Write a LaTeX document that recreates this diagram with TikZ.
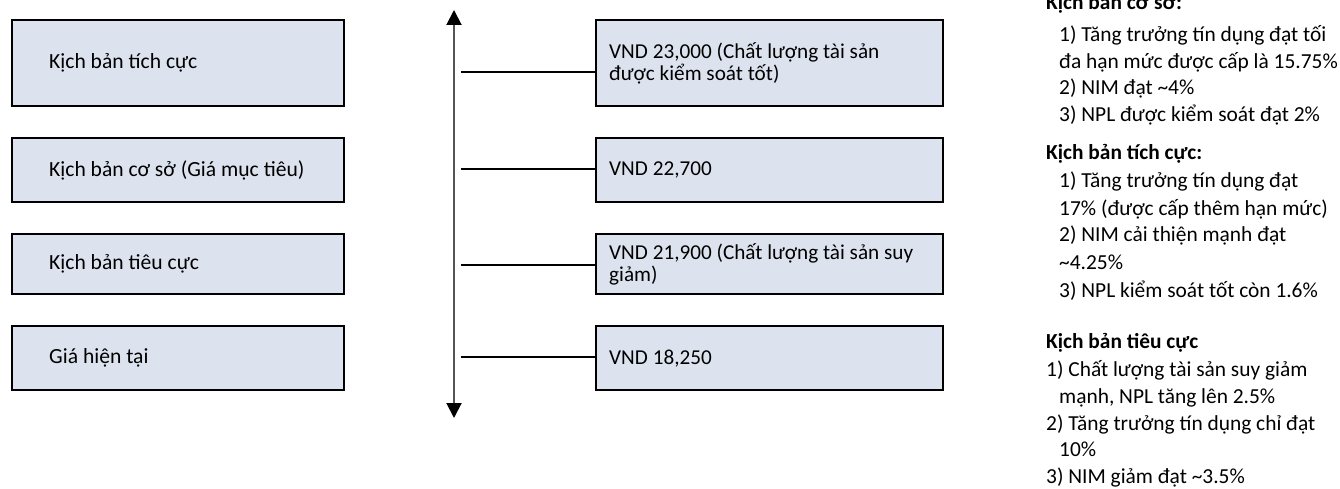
\documentclass[tikz,border=0pt]{standalone}
\usepackage{fontspec}
\setmainfont{Carlito}
\usetikzlibrary{arrows.meta}
\definecolor{boxfill}{HTML}{DDE3EE}
\definecolor{shaft}{HTML}{555555}
\tikzset{
  scenbox/.style={draw=black, line width=2.3pt, fill=boxfill, rectangle, inner sep=0pt,
    minimum height=#1, anchor=north west},
  lbox/.style={scenbox=#1, minimum width=332pt},
  rbox/.style={scenbox=#1, minimum width=347pt},
  ltext/.style={anchor=west, inner sep=0pt, font=\fontsize{21.6}{24}\selectfont},
  rtext/.style={anchor=west, inner sep=0pt, align=left, font=\fontsize{21.2}{21.8}\selectfont},
  note/.style={anchor=base west, inner sep=0pt, font=\fontsize{21.4}{24}\selectfont},
  notehead/.style={note, font=\fontsize{21.4}{24}\selectfont\bfseries},
  tick/.style={draw=black, line width=2.3pt},
}
\begin{document}
\begin{tikzpicture}[x=1pt,y=-1pt]
\clip (0,0) rectangle (1340,489);
\fill[white] (0,0) rectangle (1340,489);

% scenario boxes (left)
\node[lbox=86pt] (l1) at (11,19) {};
\node[lbox=64pt] (l2) at (11,137) {};
\node[lbox=60pt] (l3) at (11,233) {};
\node[lbox=64pt] (l4) at (11,325) {};
\node[ltext] (l1t) at ([xshift=38pt]l1.west) {Kịch bản tích cực};
\node[ltext] (l2t) at ([xshift=38pt]l2.west) {Kịch bản cơ sở (Giá mục tiêu)};
\node[ltext] (l3t) at ([xshift=38pt]l3.west) {Kịch bản tiêu cực};
\node[ltext] (l4t) at ([xshift=38pt]l4.west) {Giá hiện tại};

% price axis
\coordinate (atop) at (454,10);
\coordinate (abot) at (454,418);
\draw[draw=shaft, line width=2pt,
  {Triangle[length=15pt,width=15pt,color=black]}-{Triangle[length=15pt,width=15pt,color=black]}]
  (atop) -- (abot);

% price boxes (right)
\node[rbox=86pt] (r1) at (595,19) {};
\node[rbox=64pt] (r2) at (595,137) {};
\node[rbox=60pt] (r3) at (595,233) {};
\node[rbox=64pt] (r4) at (595,325) {};
\node[rtext] (r1t) at ([xshift=14pt]r1.west) {VND 23,000 (Chất lượng tài sản\\được kiểm soát tốt)};
\node[rtext] (r2t) at ([xshift=14pt]r2.west) {VND 22,700};
\node[rtext] (r3t) at ([xshift=14pt]r3.west) {VND 21,900 (Chất lượng tài sản suy\\giảm)};
\node[rtext] (r4t) at ([xshift=14pt]r4.west) {VND 18,250};

% ticks from the axis to the price boxes
\coordinate (t1) at (461,72);
\coordinate (t2) at (461,169);
\coordinate (t3) at (461,265);
\coordinate (t4) at (461,357);
\draw[tick] (t1) -- (t1 -| r1.west);
\draw[tick] (t2) -- (t2 -| r2.west);
\draw[tick] (t3) -- (t3 -| r3.west);
\draw[tick] (t4) -- (t4 -| r4.west);

% scenario assumptions
\node[notehead] (c0) at (1046,10) {Kịch bản cơ sở:};
\node[note] (c1) at (1059,41.7) {1) Tăng trưởng tín dụng đạt tối};
\node[note] (c2) at (1059,68.3) {đa hạn mức được cấp là 15.75\%};
\node[note] (c3) at (1059,95) {2) NIM đạt \textasciitilde 4\%};
\node[note] (c4) at (1059,121.7) {3) NPL được kiểm soát đạt 2\%};
\node[notehead] (c5) at (1046,159.3) {Kịch bản tích cực:};
\node[note] (c6) at (1059,188) {1) Tăng trưởng tín dụng đạt};
\node[note] (c7) at (1059,215) {17\% (được cấp thêm hạn mức)};
\node[note] (c8) at (1059,241.7) {2) NIM cải thiện mạnh đạt};
\node[note] (c9) at (1059,269) {\textasciitilde 4.25\%};
\node[note] (c10) at (1059,297) {3) NPL kiểm soát tốt còn 1.6\%};
\node[notehead] (c11) at (1046,348) {Kịch bản tiêu cực};
\node[note] (c12) at (1046,376.7) {1) Chất lượng tài sản suy giảm};
\node[note] (c13) at (1059,403.3) {mạnh, NPL tăng lên 2.5\%};
\node[note] (c14) at (1046,430) {2) Tăng trưởng tín dụng chỉ đạt};
\node[note] (c15) at (1059,456.7) {10\%};
\node[note] (c16) at (1046,483.3) {3) NIM giảm đạt \textasciitilde 3.5\%};
\end{tikzpicture}
\end{document}
